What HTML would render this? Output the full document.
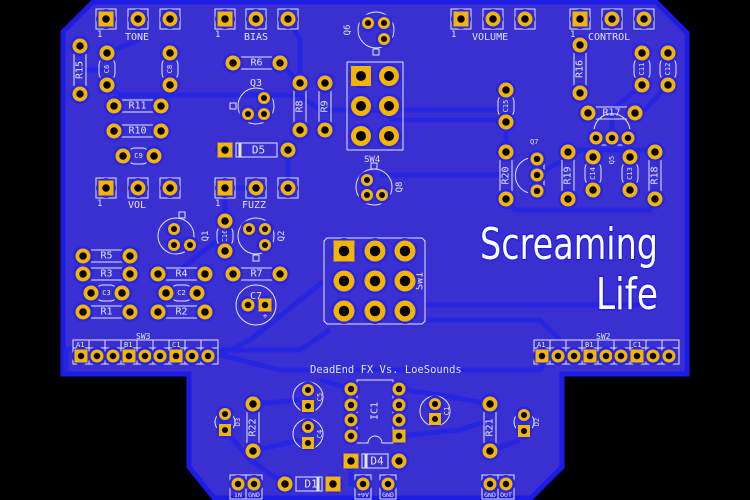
<!DOCTYPE html>
<html><head><meta charset="utf-8"><style>
html,body{margin:0;padding:0;background:#000;width:750px;height:500px;overflow:hidden}
svg{display:block}
.s{fill:none;stroke:#e4e4f4;stroke-width:1}
.t{fill:#e4e4f4;font-family:"DejaVu Sans Mono","Liberation Mono",monospace}
.tr{fill:none;stroke:#2626e2;stroke-width:5}
</style></head><body>
<svg id="b" width="750" height="500" viewBox="0 0 750 500" xmlns="http://www.w3.org/2000/svg">
<rect width="750" height="500" fill="#000"/>
<polygon points="63,32 93,2 656,2 687,33 687,374 562,374 562,467 531,498 214,498 189,467 189,374 63,374" fill="#3a30d2" stroke="#1c1ce6" stroke-width="5"/>
<g id="traces">
<path class="tr" d="M80,70 L107,70 M107,85 L120,95 L300,95 L320,110 L440,110 L500,110 M170,85 L170,95"/>
<path class="tr" d="M280,63 L300,83 M389,120 L400,120 L506,120 M506,122 L506,152 M506,175 L420,175 L380,175"/>
<path class="tr" d="M537,175 L580,150 L655,150 M506,199 L515,210 L650,210 L655,199 M642,85 L612,110 L612,138 M668,85 L640,115"/>
<path class="tr" d="M425,320 L490,320 L540,320 L560,340 M425,305 L600,305 L650,305 M324,281 L250,340 L230,350 L216,356"/>
<path class="tr" d="M73,348 L66,350 L66,372 M216,350 L300,350 L330,330 M180,270 L230,230 M220,355 L280,370 L540,370 L550,356"/>
<path class="tr" d="M253,404 L300,400 M253,451 L300,440 M351,389 L320,380 M399,389 L440,395 L490,404 M490,451 L520,440 M399,436 L460,430 L490,420 M225,430 L250,460 L285,484 M351,461 L351,484 L363,484"/>
<path class="tr" d="M288,150 L288,188 M256,188 L225,188 M138,19 L138,40 L107,53 M288,19 L300,40 L300,83 M225,221 L225,200"/>
</g>
<g id="silk"></g>
<g id="pads"></g>
<g class="t" font-size="10">
<text x="97" y="37" font-size="9">1</text><text x="125" y="40">TONE</text>
<text x="215" y="37" font-size="9">1</text><text x="244" y="40">BIAS</text>
<text x="451" y="37" font-size="9">1</text><text x="472" y="40">VOLUME</text>
<text x="570" y="37" font-size="9">1</text><text x="588" y="40">CONTROL</text>
<text x="97" y="206" font-size="9">1</text><text x="128" y="208">VOL</text>
<text x="215" y="206" font-size="9">1</text><text x="242" y="208">FUZZ</text>
<text x="250" y="86" font-size="10">Q3</text>
<text x="364" y="162" font-size="9">SW4</text>
<text x="530" y="144" font-size="7">Q7</text>
<text x="136" y="339" font-size="8">SW3</text>
<text x="596" y="339" font-size="8">SW2</text>
<text x="310" y="373" font-size="10.5">DeadEnd FX Vs. LoeSounds</text>
<text x="250" y="299" font-size="10">C7</text>
</g>
<g font-family="'DejaVu Sans',sans-serif" fill="#fff" stroke="#1c1ce0" stroke-width="2.5" paint-order="stroke" text-anchor="end" font-size="44">
<text x="658" y="259" textLength="178" lengthAdjust="spacingAndGlyphs">Screaming</text>
<text x="658" y="309" textLength="62" lengthAdjust="spacingAndGlyphs">Life</text>
</g>
</svg>
<script>
const NS="http://www.w3.org/2000/svg";
const P=document.getElementById('pads'),S=document.getElementById('silk');
function el(g,t,a,txt){const e=document.createElementNS(NS,t);for(const k in a)e.setAttribute(k,a[k]);if(txt)e.textContent=txt;g.appendChild(e);return e;}
function pad(x,y,sq,r){r=r||7.5;el(P,'circle',{cx:x,cy:y,r:r+2.5,fill:'#2626e0'});
 if(sq)el(P,'rect',{x:x-r,y:y-r,width:2*r,height:2*r,fill:'#f5b400'});else el(P,'circle',{cx:x,cy:y,r:r,fill:'#f5b400'});
 el(P,'circle',{cx:x,cy:y,r:r*0.5,fill:'#000'});}
function lbl(x,y,t,sz,rot){const a={x:x,y:y,'class':'t','font-size':sz||9,'text-anchor':'middle','dominant-baseline':'central'};if(rot)a.transform=`rotate(${rot} ${x} ${y})`;el(S,'text',a,t);}
function res(x1,y1,x2,y2,name){
 if(y1==y2){const m=(x1+x2)/2;el(S,'rect',{x:m-16,y:y1-6,width:32,height:12,'class':'s'});lbl(m,y1,name,10);}
 else{const m=(y1+y2)/2;el(S,'rect',{x:x1-6,y:m-16,width:12,height:32,'class':'s'});lbl(x1,m,name,10,-90);}
 pad(x1,y1);pad(x2,y2);}
function cap(x1,y1,x2,y2,name){
 if(y1==y2){const m=(x1+x2)/2;el(S,'rect',{x:x1+4,y:y1-8,width:x2-x1-8,height:16,rx:8,'class':'s'});lbl(m,y1,name,7);}
 else{const m=(y1+y2)/2;el(S,'rect',{x:x1-8,y:y1+4,width:16,height:y2-y1-8,rx:8,'class':'s'});lbl(x1,m,name,7,-90);}
 pad(x1,y1);pad(x2,y2);}
function pot(xs,y){xs.forEach((x,i)=>{el(S,'rect',{x:x-10,y:y-10,width:20,height:20,'class':'s'});pad(x,y,i==0);});}
function tr(cx,cy,ps,name,lx,ly,tab){el(S,'circle',{cx:cx,cy:cy,r:18,'class':'s'});if(tab)el(S,'rect',{x:tab[0]-3,y:tab[1]-3,width:6,height:6,'class':'s'});ps.forEach(p=>pad(p[0],p[1],false,6));lbl(lx,ly,name,9,-90);}
function ecap(cx,cy,r,p1,p2,name,lx){el(S,'circle',{cx:cx,cy:cy,r:r,'class':'s'});pad(p1[0],p1[1],false,6);pad(p2[0],p2[1],true,6);if(name)lbl(lx,cy,name,7,-90);}
function dio(x1,x2,y,name,sqLeft){el(S,'rect',{x:x1+11,y:y-7,width:x2-x1-22,height:14,'class':'s'});const bx=sqLeft?x1+15:x2-15;el(S,'rect',{x:bx-1.5,y:y-7,width:3,height:14,fill:'#e4e4f4'});lbl((x1+x2)/2+2,y,name,11);pad(x1,y,sqLeft);pad(x2,y,!sqLeft);}
function hdr(x0,y0,xs,sqs,labels){el(S,'rect',{x:x0,y:y0,width:xs.length*16+1,height:24,'class':'s'});
 xs.forEach((x,i)=>{el(S,'line',{x1:x0+i*16,y1:y0,x2:x0+i*16,y2:y0+24,'class':'s'});pad(x,y0+16,sqs.includes(i),6.5);});
 el(S,'line',{x1:x0,y1:y0+8,x2:x0+xs.length*16+1,y2:y0+8,'class':'s'});
 labels.forEach(l=>el(S,'text',{x:x0+l[0]*16+3,y:y0+7,'class':'t','font-size':7},l[1]));}
pot([106,138,170],19);pot([225,256,288],19);pot([461,493,525],19);pot([580,612,644],19);
pot([106,138,170],188);pot([225,256,288],188);
res(80,46,80,94,'R15');cap(107,53,107,85,'C6');cap(170,53,170,85,'C8');
res(233,63,280,63,'R6');res(300,83,300,130,'R8');res(325,83,325,130,'R9');
res(114,106,161,106,'R11');res(114,131,161,131,'R10');cap(123,156,154,156,'C9');
tr(256,106,[[264,98],[248,114],[264,114]],'',0,0,[233,106]);
dio(225,288,150,'D5',true);
tr(376,30,[[368,23],[384,23],[384,39]],'Q6',348,30,[376,52]);
el(S,'rect',{x:347,y:62,width:56,height:88,'class':'s'});
[[361,76,1],[389,76],[361,106],[389,106],[361,136],[389,136]].forEach(p=>pad(p[0],p[1],p[2],10));
tr(374,187,[[367,180],[367,195],[382,195]],'Q8',400,187,[374,166]);
res(580,45,580,93,'R16');cap(642,53,642,85,'C11');cap(668,53,668,85,'C12');
res(588,113,635,113,'R17');cap(506,90,506,122,'C15');
el(S,'path',{d:'M600,145 A18,18 0 1 1 624,145 Z','class':'s'});
[596,612,628].forEach(x=>pad(x,138,false,6.5));lbl(612,160,'Q5',7,-90);
res(506,152,506,199,'R20');res(568,152,568,199,'R19');res(655,152,655,199,'R18');
cap(593,157,593,190,'C14');cap(630,157,630,190,'C13');
el(S,'path',{d:'M544,161 A18,18 0 1 0 544,190 Z','class':'s'});[159,175,191].forEach(y=>pad(537,y,false,6.5));
tr(176,236,[[174,229],[174,245],[190,245]],'Q1',206,236,[182,215]);
cap(225,221,225,251,'C16');
tr(256,236,[[249,229],[265,229],[265,245]],'Q2',282,236,[256,258]);
res(83,256,130,256,'R5');res(83,274,130,274,'R3');res(158,274,205,274,'R4');res(233,274,280,274,'R7');
cap(91,293,122,293,'C3');cap(166,293,197,293,'C2');
res(83,312,130,312,'R1');res(158,312,205,312,'R2');
el(S,'circle',{cx:256,cy:305,r:20,'class':'s'});pad(248,305,false,6.5);pad(265,305,true,6.5);lbl(265,316,'+',8);
el(S,'path',{d:'M324,241 L327,238 L422,238 L425,241 L425,321 L422,324 L327,324 L324,321 Z','class':'s'});
[[344,251,1],[375,251],[405,251],[344,281],[375,281],[405,281],[344,311],[375,311],[405,311]].forEach(p=>pad(p[0],p[1],p[2],10.5));
lbl(420,281,'SW1',10,-90);
hdr(73,340,[81,97,113,129,145,160,176,192,208],[0,3,6],[[0,'A1'],[3,'B1'],[6,'C1']]);
hdr(534,340,[542,558,574,590,606,621,637,653,669],[0,3,6],[[0,'A1'],[3,'B1'],[6,'C1']]);
el(S,'path',{d:'M357,380 L393,380 L393,443 L382,443 A7,7 0 0 0 368,443 L357,443 Z','class':'s'});
[389,405,420,436].forEach((y,i)=>{pad(351,y,false,6.5);pad(399,y,i==3,6.5);});
lbl(375,411,'IC1',10,-90);
ecap(308,397,15,[308,390],[308,406],'C5',320);ecap(308,434,15,[308,427],[308,443],'C4',320);
ecap(435,411,15,[435,404],[435,419],'C1',447);
el(S,'circle',{cx:225,cy:422,r:10,'class':'s'});pad(225,414,false,6);pad(225,430,true,6);lbl(238,422,'D3',7,-90);
el(S,'circle',{cx:524,cy:422,r:10,'class':'s'});pad(524,415,false,6);pad(524,431,true,6);lbl(537,422,'D2',7,-90);
res(253,404,253,451,'R22');res(490,404,490,451,'R21');
dio(351,399,461,'D4',true);dio(285,333,484,'D1',false);
function term(xs,labels){xs.forEach((x,i)=>{el(S,'rect',{x:x-8,y:475,width:16,height:24,'class':'s'});pad(x,484,false,6.5);el(S,'text',{x:x,y:497,'class':'t','font-size':6.5,'text-anchor':'middle'},labels[i]);});}
term([238,254],['IN','GND']);term([363,388],['+9V','GND']);term([490,506],['GND','OUT']);
</script>
</body></html>
